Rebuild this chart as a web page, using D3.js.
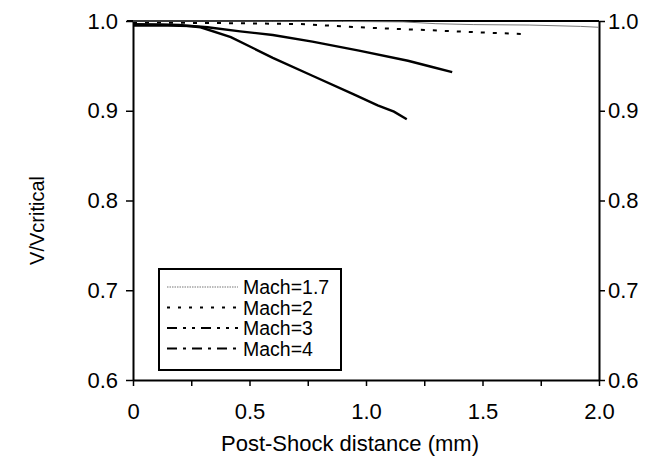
<!DOCTYPE html>
<html>
<head>
<meta charset="utf-8">
<script src="https://cdn.jsdelivr.net/npm/d3@7"></script>
<style>
  body { margin: 0; background: #fff; }
  text { font-family: "Liberation Sans", Arial, sans-serif; fill: #000; }
</style>
</head>
<body>
<div id="plot"></div>
<script>
// Series names
var machs = ["Mach=1.7", "Mach=2", "Mach=3", "Mach=4"];

// Post-shock distance (mm) / V over V critical
var mach17_x = [0, 0.3, 0.6, 0.9, 1.16, 1.3, 1.46, 1.7, 1.92, 2.0];
var mach17_y = [1.0, 1.0, 0.9998, 0.9995, 0.999, 0.997, 0.996, 0.9955, 0.994, 0.993];

var mach2_x = [0, 0.2, 0.45, 0.72, 0.9, 1.07, 1.25, 1.38, 1.52, 1.67];
var mach2_y = [0.9985, 0.998, 0.9975, 0.9966, 0.994, 0.9918, 0.99, 0.9885, 0.987, 0.9855];

var mach3_x = [0, 0.15, 0.25, 0.32, 0.46, 0.6, 0.77, 0.97, 1.18, 1.28, 1.37];
var mach3_y = [0.995, 0.995, 0.9945, 0.993, 0.9885, 0.9844, 0.977, 0.967, 0.9557, 0.949, 0.943];

var mach4_x = [0, 0.12, 0.2, 0.29, 0.42, 0.6, 0.77, 0.95, 1.05, 1.12, 1.175];
var mach4_y = [0.9965, 0.9962, 0.9955, 0.993, 0.982, 0.959, 0.939, 0.918, 0.906, 0.899, 0.8905];

var xTicks = [0, 0.5, 1.0, 1.5, 2.0];
var xMinorTicks = [0.25, 0.75, 1.25, 1.75];
var yTicks = [0.6, 0.7, 0.8, 0.9, 1.0];

var allX = [mach17_x, mach2_x, mach3_x, mach4_x];
var allY = [mach17_y, mach2_y, mach3_y, mach4_y];

// line looks
var strokeCol = ["#777", "#000", "#000", "#000"];
var strokeW = [1, 2, 2.4, 2.4];
var plotDash = ["none", "4,8", "none", "none"];
var legendDash = ["1.5,1", "3,8", "10,6,3,6,3,6", "10,6,3,6"];

var width = 651, height = 474;
var plotLeft = 133, plotRight = 599, plotTop = 21, plotBottom = 380;

var svg = d3.select("#plot").append("svg")
    .attr("width", width)
    .attr("height", height);

var x = d3.scaleLinear().domain([0, 2]).range([plotLeft, plotRight]);
var y = d3.scaleLinear().domain([0.6, 1.0]).range([plotBottom, plotTop]);

// axes
var fmtX = function(d) { return d === 0 ? "0" : d.toFixed(1); };

var xAxis = svg.append("g")
    .attr("transform", "translate(0," + plotBottom + ")")
    .call(d3.axisBottom(x).tickValues(xTicks.concat(xMinorTicks)).tickSizeInner(6).tickSizeOuter(0)
        .tickFormat(function(d) { return xTicks.includes(d) ? fmtX(d) : ""; }));
xAxis.selectAll("text").style("font-size", "22px").attr("dy", "1.35em");

var yLeft = svg.append("g")
    .attr("transform", "translate(" + plotLeft + ",0)")
    .call(d3.axisLeft(y).tickValues(yTicks).tickSizeInner(7).tickSizeOuter(0).tickPadding(8)
        .tickFormat(d3.format(".1f")));
yLeft.selectAll("text").style("font-size", "22px");

var yRight = svg.append("g")
    .attr("transform", "translate(" + plotRight + ",0)")
    .call(d3.axisRight(y).tickValues(yTicks).tickSizeInner(6).tickSizeOuter(0).tickPadding(3)
        .tickFormat(d3.format(".1f")));
yRight.selectAll("text").style("font-size", "22px");

svg.selectAll(".domain").attr("stroke", "#000").attr("stroke-width", 2);
svg.selectAll(".tick line").attr("stroke", "#000").attr("stroke-width", 1.5);

// top border
svg.append("line")
    .attr("x1", plotLeft - 6).attr("x2", plotRight)
    .attr("y1", plotTop).attr("y2", plotTop)
    .attr("stroke", "#000").attr("stroke-width", 2);

// titles
svg.append("text")
    .attr("x", 350)
    .attr("y", 451)
    .attr("text-anchor", "middle")
    .style("font-size", "22px")
    .text("Post-Shock distance (mm)");

svg.append("text")
    .attr("transform", "translate(44," + ((plotTop + plotBottom) / 2 + 20) + ") rotate(-90)")
    .attr("text-anchor", "middle")
    .style("font-size", "20px")
    .text("V/Vcritical");

// curves
var line = d3.line()
    .x(function(d) { return x(d[0]); })
    .y(function(d) { return y(d[1]); });

for (let i = allX.length - 1; i >= 0; i--) {
    var pts = allX[i].map(function(v, j) { return [v, allY[i][j]]; });
    svg.append("path")
        .datum(pts)
        .attr("fill", "none")
        .attr("stroke", strokeCol[i])
        .attr("stroke-width", strokeW[i])
        .attr("stroke-dasharray", plotDash[i])
        .attr("d", line);
}

// legend
var legend = svg.append("g");
legend.append("rect")
    .attr("x", 159).attr("y", 269)
    .attr("width", 182).attr("height", 101)
    .attr("fill", "#fff")
    .attr("stroke", "#000").attr("stroke-width", 2);

machs.forEach(function(m, i) {
    var ly = 287 + i * 20.5;
    legend.append("line")
        .attr("x1", 167).attr("x2", 238)
        .attr("y1", ly).attr("y2", ly)
        .attr("stroke", strokeCol[i])
        .attr("stroke-width", i === 0 ? 1 : 2)
        .attr("stroke-dasharray", legendDash[i]);
    legend.append("text")
        .attr("x", 243).attr("y", ly + 7)
        .style("font-size", "19.5px")
        .text(m);
});
</script>
</body>
</html>
